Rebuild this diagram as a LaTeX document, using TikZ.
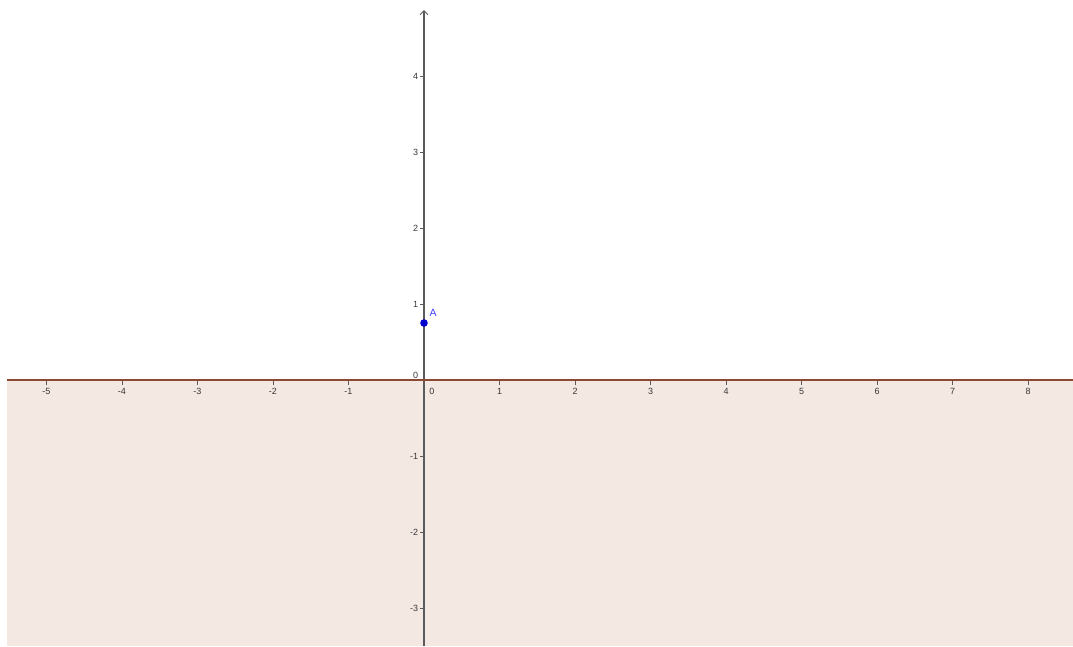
\documentclass[tikz,border=0pt]{standalone}
\usepackage{fontspec}
\setmainfont{Liberation Sans}
\usetikzlibrary{arrows.meta}
\definecolor{halfpink}{RGB}{244,232,227}
\definecolor{bound}{RGB}{140,72,48}
\definecolor{axisgray}{RGB}{90,90,90}
\definecolor{lblgray}{RGB}{55,55,55}
\definecolor{ptblue}{RGB}{0,0,204}
\definecolor{lblblue}{RGB}{60,60,255}
\tikzset{
  axisline/.style={draw=axisgray, line width=1.2pt},
  ticklbl/.style={text=lblgray, font=\fontsize{9}{11}\selectfont, inner sep=0pt},
  tickmark/.style={draw=axisgray, line width=0.9pt}
}
\begin{document}
\begin{tikzpicture}[x=75.5pt,y=76pt]
\useasboundingbox (-5.6159,-3.5) rectangle (8.5960,5.0);
% shaded half-plane
\fill[halfpink] (-5.523,0) rectangle (8.5960,-3.5);
% axes
\coordinate (xl) at (-5.523,0);
\coordinate (xr) at (8.5960,0);
\coordinate (yb) at (0,-3.5);
\coordinate (yt) at (0,4.868);
\draw[axisline] (xl) -- (xr);
\draw[axisline,-{Straight Barb[length=4pt,width=8pt,line width=1pt]}] (yb) -- (yt);
% x ticks
\foreach \i in {-5,-4,-3,-2,-1,1,2,3,4,5,6,7,8}{
  \draw[tickmark] (\i,0) -- ++(0,-5pt);
  \node[ticklbl] (xt\i) at (\i,-0.15) {\i};
}
\node[ticklbl] (xt0) at (0.105,-0.15) {0};
% y ticks
\foreach \j in {-3,-2,-1,1,2,3,4}{
  \draw[tickmark] (0,\j) -- ++(-4.5pt,0);
  \node[ticklbl,anchor=east] (yt\j) at (-0.075,\j) {\j};
}
\node[ticklbl,anchor=east] (yt0) at (-0.075,0.065) {0};
% boundary line
\draw[bound, line width=1.8pt] (xl) -- (xr);
% point A
\fill[ptblue] (0,0.75) circle (3.8pt);
\node (ptA) at (0,0.75) {};
\node[text=lblblue, font=\fontsize{10.5}{12}\selectfont, inner sep=0pt] (lblA) at (0.12,0.885) {A};
\end{tikzpicture}
\end{document}
